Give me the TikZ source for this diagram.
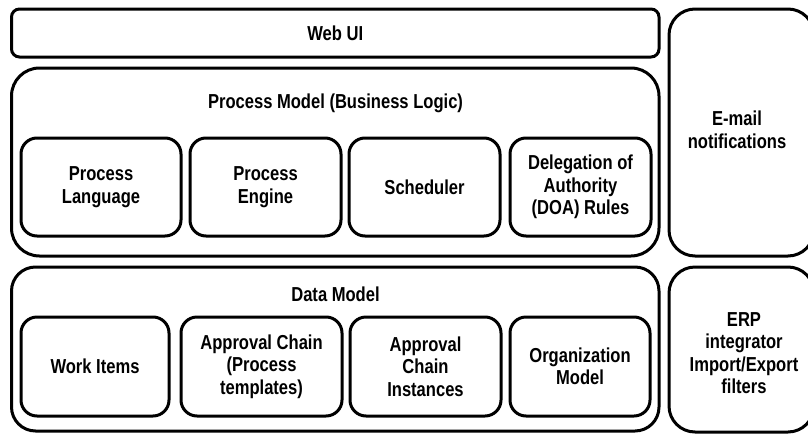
\documentclass[tikz,border=0pt]{standalone}
\usepackage{fontspec}
\setmainfont{Liberation Sans}[FakeStretch=0.82]
\begin{document}
\begin{tikzpicture}[x=1pt,y=-1pt,
  frame/.style={draw=black, line width=3pt, rounded corners=#1, inner sep=0pt},
  frame/.default=16pt,
  lbl/.style={align=center, text=black,
    font=\bfseries\fontsize{20.2}{22.5}\selectfont},
]
\useasboundingbox (0,0) rectangle (808,434);
\clip (0,0) rectangle (808,434);

% top bar
\node[frame=8pt, minimum width=647.5pt, minimum height=48pt, lbl] (web) at (335.25,33) {Web UI};

% business logic layer
\node[frame=28pt, minimum width=647.5pt, minimum height=188pt] (pm) at (335.25,162) {};
\node[lbl] (pmtitle) at (335.5,103) {Process Model (Business Logic)};
\node[frame, lbl, minimum width=160pt, minimum height=98pt] (plang) at (101,187) {Process\\Language};
\node[frame, lbl, minimum width=151pt, minimum height=98pt] (peng) at (265.5,187) {Process\\Engine};
\node[frame, lbl, minimum width=151pt, minimum height=98pt] (sched) at (424.5,187) {Scheduler};
\node[frame, lbl, minimum width=141pt, minimum height=98pt] (doa) at (580.5,187) {Delegation of\\Authority\\(DOA) Rules};

% data layer
\node[frame=24pt, minimum width=647.5pt, minimum height=164pt] (dm) at (335.25,349) {};
\node[lbl] (dmtitle) at (335.5,294) {Data Model};
\node[frame, lbl, minimum width=148pt, minimum height=99pt] (work) at (95,366.5) {Work Items};
\node[frame, lbl, minimum width=161pt, minimum height=99pt] (chain) at (261.5,366.5) {Approval Chain\\(Process\\templates)};
\node[frame, lbl, minimum width=151pt, minimum height=99pt] (inst) at (425.5,366.5) {Approval\\Chain\\Instances};
\node[frame, lbl, minimum width=140pt, minimum height=99pt] (org) at (580,366.5) {Organization\\Model};

% side services
\node[frame=26pt, minimum width=145pt, minimum height=247pt] (mail) at (741.5,132.5) {};
\node[lbl] (mailtxt) at (737,130) {E-mail\\notifications};
\node[frame=26pt, minimum width=145pt, minimum height=165pt] (erp) at (741.5,349.5) {};
\node[lbl] (erptxt) at (744,353) {ERP\\integrator\\Import/Export\\filters};
\end{tikzpicture}
\end{document}
